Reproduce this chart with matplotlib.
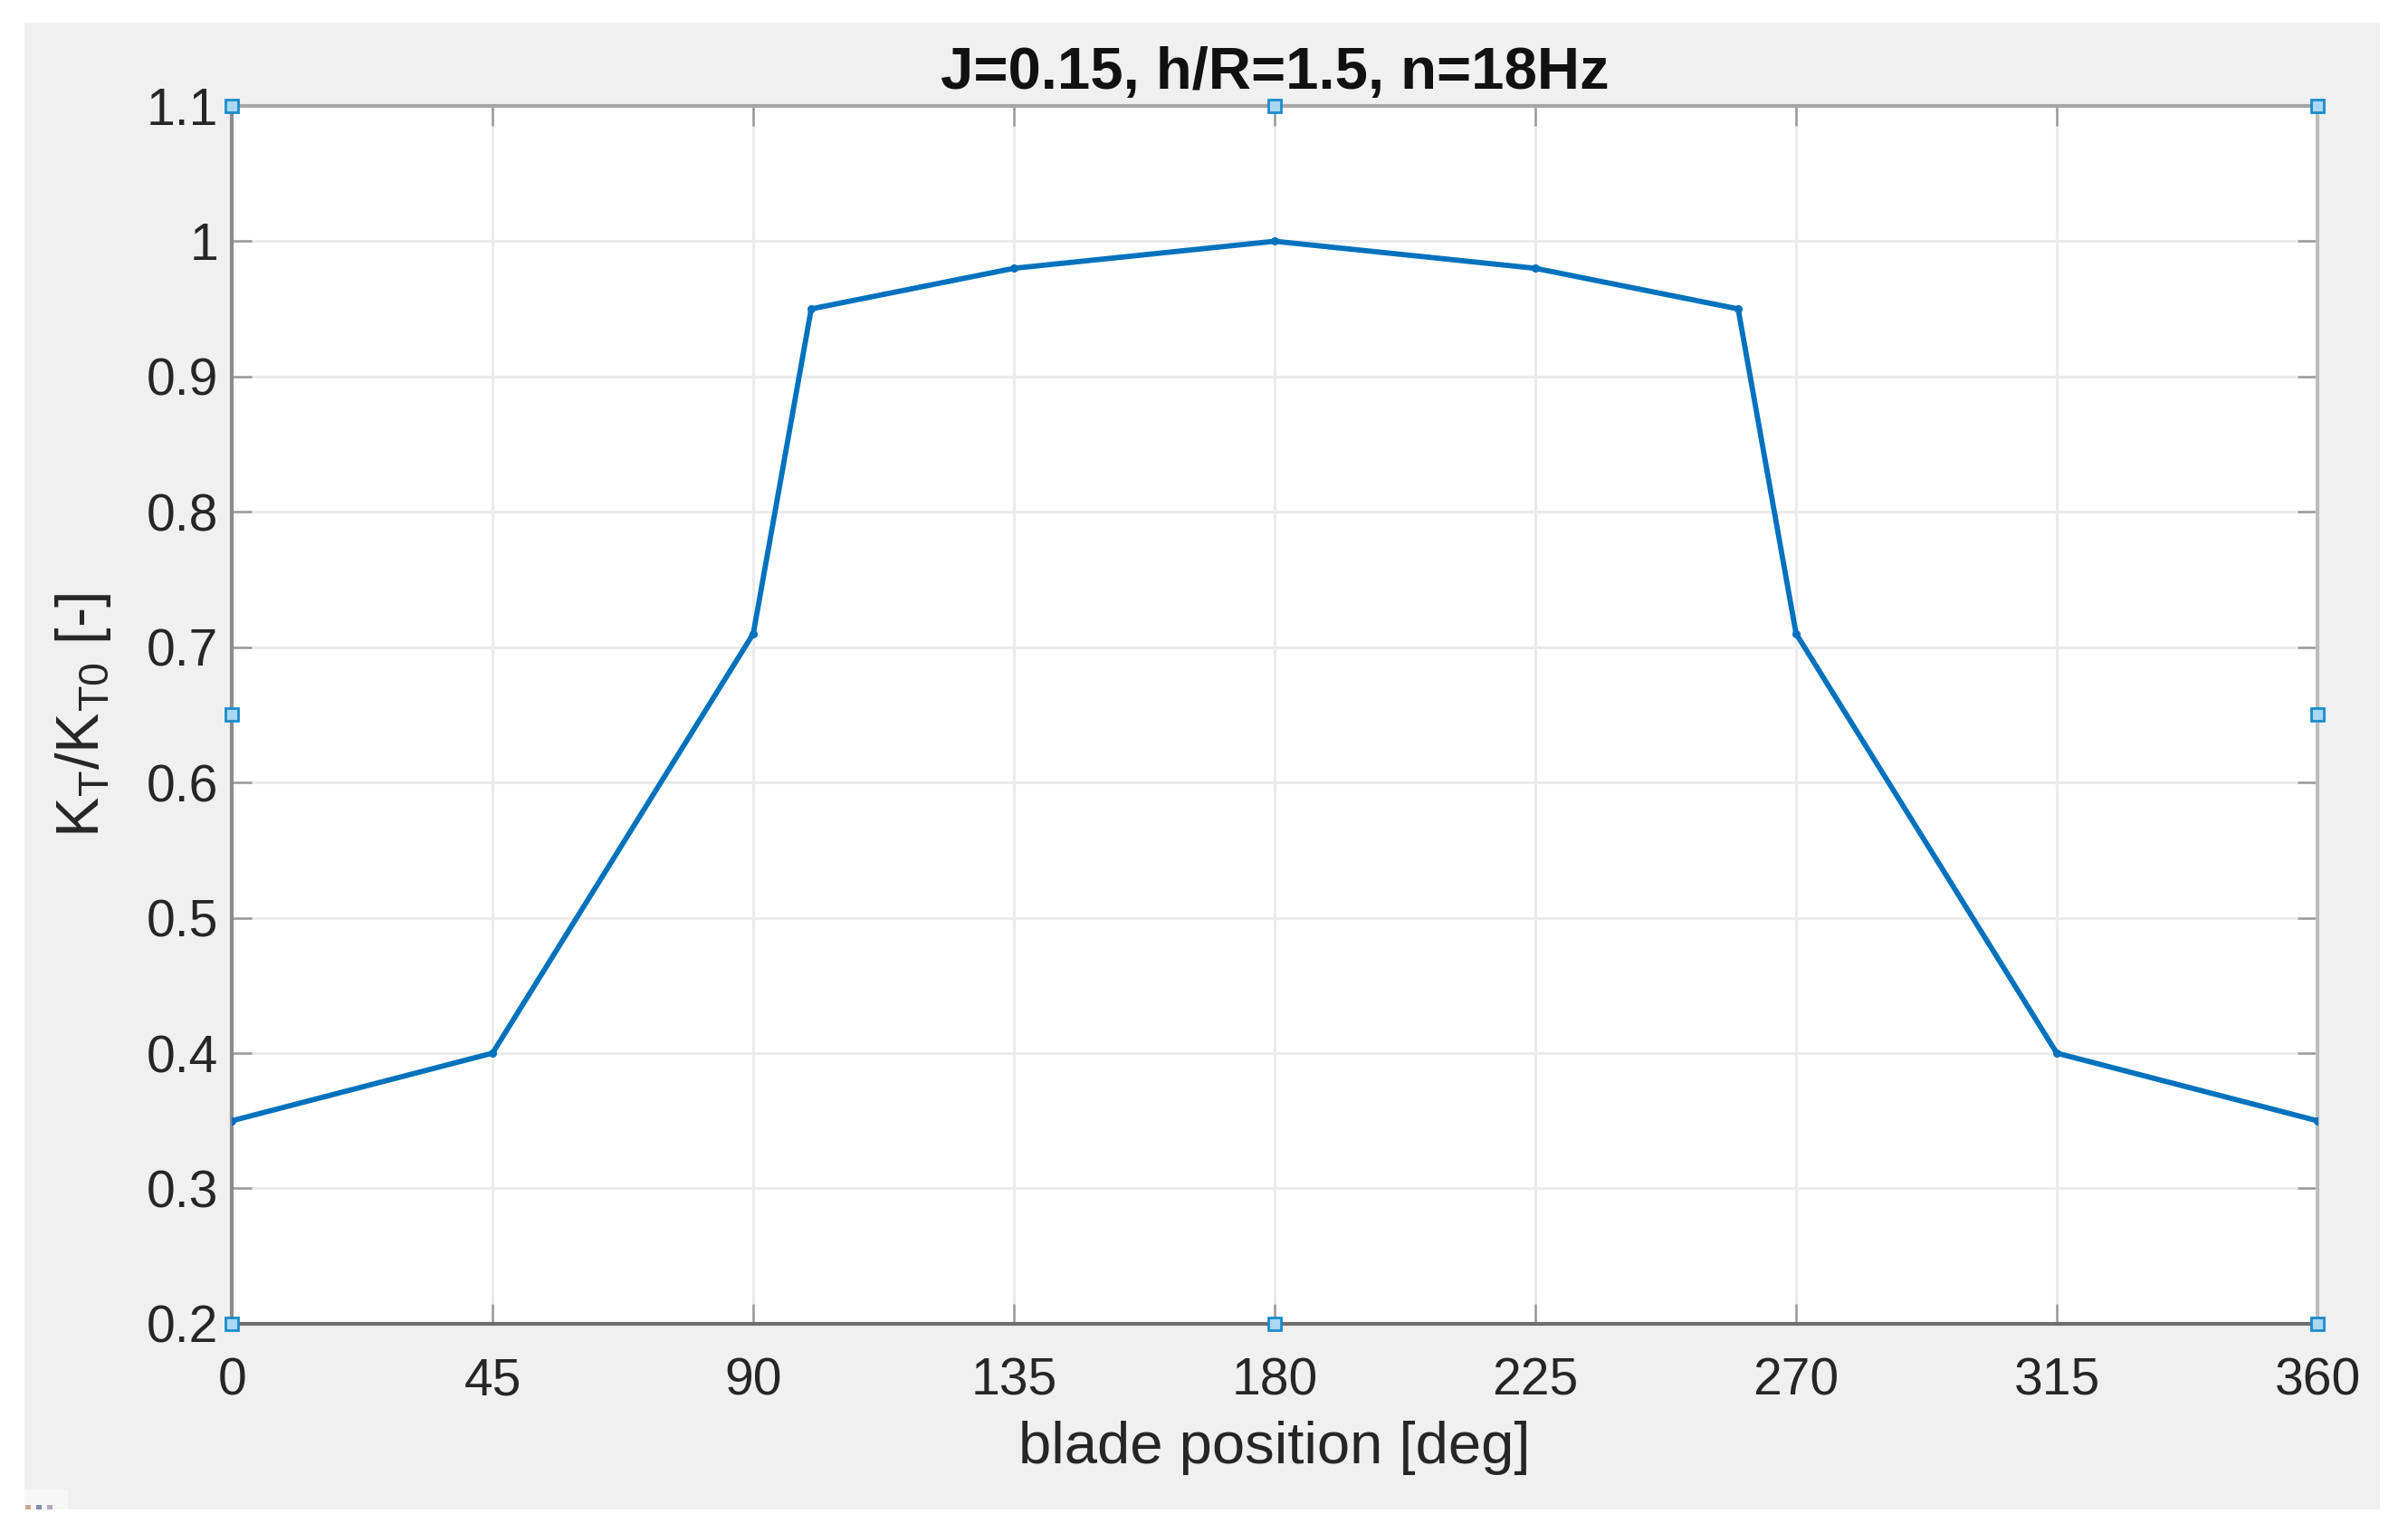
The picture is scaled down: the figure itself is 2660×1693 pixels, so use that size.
import matplotlib
matplotlib.use("Agg")
from matplotlib import pyplot as plt
from matplotlib.patches import Rectangle

plt.rcParams['font.family'] = ['Liberation Sans', 'DejaVu Sans']
plt.rcParams['mathtext.fontset'] = 'custom'
plt.rcParams['mathtext.rm'] = 'Liberation Sans'

# blade position [deg] and thrust ratio
blade_pos = [0, 45, 90, 100, 135, 180, 225, 260, 270, 315, 360]
kt_ratio = [0.35, 0.40, 0.71, 0.95, 0.98, 1.00, 0.98, 0.95, 0.71, 0.40, 0.35]

x_ticks = [0, 45, 90, 135, 180, 225, 270, 315, 360]
y_ticks = [0.2, 0.3, 0.4, 0.5, 0.6, 0.7, 0.8, 0.9, 1.0, 1.1]
y_tick_labels = ['0.2', '0.3', '0.4', '0.5', '0.6', '0.7', '0.8', '0.9', '1', '1.1']

title = 'J=0.15, h/R=1.5, n=18Hz'
xlabel = 'blade position [deg]'
ylabel = r'K$_\mathregular{T}$/K$_\mathregular{T0}$ [-]'

fig = plt.figure(figsize=(26.6, 16.93), dpi=100, facecolor='white')

# grey matlab figure panel
fig.patches.append(Rectangle((0.0102, 0.0154), 0.978, 0.9699, transform=fig.transFigure,
                             facecolor='#f0f0f0', edgecolor='none', zorder=-10))
# little toolbar stub in the corner
fig.patches.append(Rectangle((0.0102, 0.0154), 0.018, 0.013, transform=fig.transFigure,
                             facecolor='#f7f7f7', edgecolor='none', zorder=-9))
for i, c in enumerate(['#c4a88e', '#7a92ac', '#b4a8bc']):
    fig.patches.append(Rectangle((0.0104 + i * 0.0045, 0.0154), 0.0025, 0.003,
                                 transform=fig.transFigure, facecolor=c,
                                 edgecolor='none', zorder=-8))

ax = fig.add_axes([0.0963, 0.1365, 0.8661, 0.7944])
ax.set_facecolor('white')

ax.plot(blade_pos, kt_ratio, '.-', color='#0072BD', linewidth=4.2, markersize=11, zorder=3)

ax.set_xlim(0, 360)
ax.set_ylim(0.2, 1.1)
ax.set_xticks(x_ticks)
ax.set_xticklabels([str(t) for t in x_ticks])
ax.set_yticks(y_ticks)
ax.set_yticklabels(y_tick_labels)

ax.grid(True, color='#ebebeb', linewidth=2.2, zorder=0)
ax.set_axisbelow(True)

ax.tick_params(direction='in', length=16, width=1.8, color='#9a9a9a',
               top=True, right=True, labelsize=41, labelcolor='#262626')
ax.tick_params(axis='x', pad=26)
ax.tick_params(axis='y', pad=11)

ax.spines['bottom'].set_color('#6e6e6e')
ax.spines['left'].set_color('#8c8c8c')
ax.spines['top'].set_color('#a6a6a6')
ax.spines['right'].set_color('#bdbdbd')
for s in ax.spines.values():
    s.set_linewidth(3)

ax.set_title(title, fontsize=47, fontweight='bold', color='#111111', pad=14)
ax.set_xlabel(xlabel, fontsize=47, color='#262626', labelpad=12)
ax.set_ylabel(ylabel, fontsize=48, color='#262626')
ax.yaxis.set_label_coords(-0.057, 0.5)

# selection handles around the axes box
hx = [0, 0.5, 1, 0, 1, 0, 0.5, 1]
hy = [1, 1, 1, 0.5, 0.5, 0, 0, 0]
ax.plot(hx, hy, 's', transform=ax.transAxes, clip_on=False, markersize=10,
        markerfacecolor='#aad8f2', markeredgecolor='#1a8ccc', markeredgewidth=2, zorder=5)

fig.savefig('out.png', dpi=100, facecolor='white')
